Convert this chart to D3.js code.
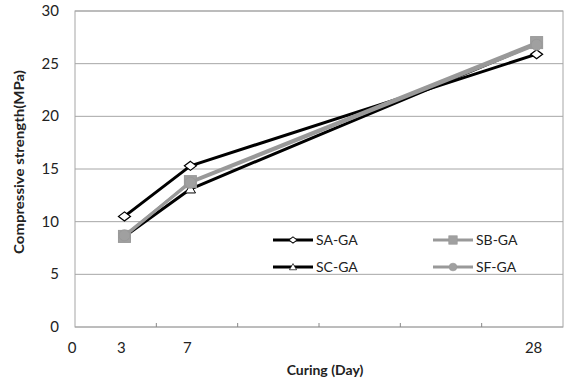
<!DOCTYPE html>
<html>
  <head>
    <meta charset="utf-8">
    <title>Compressive strength vs curing</title>
    <script src="https://d3js.org/d3.v7.min.js"></script>
    <style>
      body { margin: 0; background: #fff; }
      text { font-family: Lato, "Open Sans", sans-serif; fill: #222; }
    </style>
  </head>
  <body>
    <div id="chart"></div>
    <script>
      // Data
      const days = [3, 7, 28];
      const dayLabels = [0, 3, 7, 28];
      const yTicks = [0, 5, 10, 15, 20, 25, 30];
      const seriesNames = ["SA-GA", "SB-GA", "SC-GA", "SF-GA"];
      const saGA = [10.5, 15.3, 25.9];
      const sbGA = [8.6, 13.8, 27.0];
      const scGA = [8.6, 13.1, 26.9];
      const sfGA = [8.7, 13.7, 26.8];

      const margin = {top: 11, right: 2, bottom: 53, left: 75};
      const W = 565, H = 380;
      const width = W - margin.left - margin.right;
      const height = H - margin.top - margin.bottom;

      const svg = d3.select("#chart").append("svg")
        .attr("width", W).attr("height", H);
      const g = svg.append("g")
        .attr("transform", `translate(${margin.left},${margin.top})`);

      const x = d3.scaleLinear().domain([0, 29.6]).range([0, width]);
      const y = d3.scaleLinear().domain([0, 30]).range([height, 0]);
      // the decorative tick marks split the axis into 6 equal slots
      const slots = d3.scaleLinear().domain([0, 6]).range([0, width]);

      // gridlines
      g.selectAll(".grid").data(yTicks).join("line")
        .attr("x1", 0).attr("x2", width)
        .attr("y1", d => y(d)).attr("y2", d => y(d))
        .attr("stroke", "#a6a6a6").attr("stroke-width", 1);

      // plot border
      g.append("rect").attr("width", width).attr("height", height)
        .attr("fill", "none").attr("stroke", "#a6a6a6");

      // y tick labels
      g.selectAll(".ylab").data(yTicks).join("text")
        .attr("x", -16).attr("y", d => y(d) + 5)
        .attr("text-anchor", "end").attr("font-size", 15)
        .text(d => d);

      // x axis minor tick marks
      g.selectAll(".xtick").data(d3.range(1, 6)).join("line")
        .attr("x1", d => slots(d)).attr("x2", d => slots(d))
        .attr("y1", height).attr("y2", height - 4)
        .attr("stroke", "#888");

      // x tick labels
      g.selectAll(".xlab").data(dayLabels).join("text")
        .attr("x", d => x(d) - 3).attr("y", height + 26)
        .attr("text-anchor", "middle").attr("font-size", 15)
        .text(d => d);

      // axis titles
      svg.append("text")
        .attr("x", 325).attr("y", 375)
        .attr("text-anchor", "middle").attr("font-size", 14)
        .attr("font-weight", "bold")
        .text("Curing (Day)");
      svg.append("text")
        .attr("transform", "translate(24,162) rotate(-90)")
        .attr("text-anchor", "middle").attr("font-size", 13)
        .attr("font-weight", "bold")
        .attr("textLength", 184).attr("lengthAdjust", "spacingAndGlyphs")
        .text("Compressive strength(MPa)");

      const series = [
        {name: seriesNames[0], values: saGA, color: "#000", marker: "diamond"},
        {name: seriesNames[1], values: sbGA, color: "#999", marker: "square"},
        {name: seriesNames[2], values: scGA, color: "#000", marker: "triangle"},
        {name: seriesNames[3], values: sfGA, color: "#999", marker: "circle"}
      ];

      const line = d3.line()
        .x((d, i) => x(days[i]))
        .y(d => y(d));

      function drawMarker(sel, s, cx, cy, k) {
        const m = sel.append("g").attr("transform", `translate(${cx},${cy}) scale(${k})`);
        if (s.marker === "diamond") {
          m.append("path")
            .attr("d", d3.symbol(d3.symbolDiamond, 55)())
            .attr("transform", "scale(1.5,0.65)")
            .attr("fill", "#fff").attr("stroke", "#000").attr("stroke-width", 1.2);
        } else if (s.marker === "square") {
          m.append("rect")
            .attr("x", -6).attr("y", -6).attr("width", 12).attr("height", 12)
            .attr("fill", "#a0a0a0").attr("stroke", "#999");
        } else if (s.marker === "triangle") {
          m.append("path")
            .attr("d", d3.symbol(d3.symbolTriangle, 45)())
            .attr("transform", "translate(0,1)")
            .attr("fill", "#fff").attr("stroke", "#000").attr("stroke-width", 1);
        } else {
          m.append("circle").attr("r", 5.5)
            .attr("fill", "#a0a0a0").attr("stroke", "#999");
        }
      }

      // draw order: SA, SC (black), then SB, SF (gray) on top
      const order = [0, 2, 1, 3];
      order.forEach(k => {
        const s = series[k];
        const sg = g.append("g");
        sg.append("path").datum(s.values)
          .attr("d", line).attr("fill", "none")
          .attr("stroke", s.color).attr("stroke-width", 3)
          .attr("stroke-linejoin", "round");
        s.values.forEach((v, i) => drawMarker(sg, s, x(days[i]), y(v), 1));
      });

      // legend
      const legendPos = [
        {x: 273, y: 240}, {x: 433, y: 240},
        {x: 273, y: 267}, {x: 433, y: 267}
      ];
      series.forEach((s, k) => {
        const p = legendPos[k];
        const lg = svg.append("g");
        lg.append("line")
          .attr("x1", p.x).attr("x2", p.x + 40)
          .attr("y1", p.y).attr("y2", p.y)
          .attr("stroke", s.color).attr("stroke-width", 3);
        drawMarker(lg, s, p.x + 20, p.y, 0.7);
        lg.append("text")
          .attr("x", p.x + 43).attr("y", p.y + 5)
          .attr("font-size", 14)
          .text(s.name);
      });
    </script>
  </body>
</html>
